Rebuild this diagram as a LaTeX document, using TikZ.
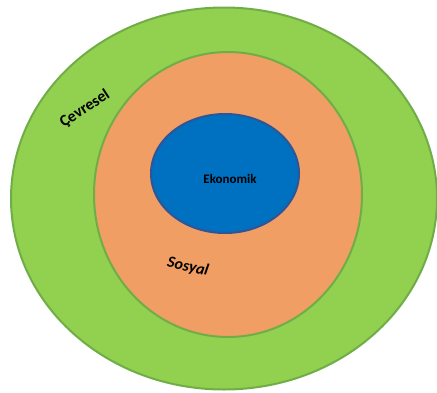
\documentclass[tikz,border=0pt]{standalone}
\usepackage{fontspec}
\setmainfont{Carlito}
\usetikzlibrary{shapes.geometric}
\definecolor{ringgreen}{HTML}{92D050}
\definecolor{ringgreenline}{HTML}{70AD47}
\definecolor{ringorange}{HTML}{F09E63}
\definecolor{coreblue}{HTML}{0070C0}
\definecolor{corebluel}{HTML}{2F5597}
\tikzset{
  ring/.style={ellipse, inner sep=0pt, line width=2pt},
  lbl/.style={font=\bfseries, text=black, inner sep=0pt}
}
\begin{document}
\begin{tikzpicture}[x=1pt,y=-1pt]
\useasboundingbox (0,0) rectangle (437,392);
\node[ring, fill=ringgreen, draw=ringgreenline, minimum width=426pt, minimum height=382pt] (outer) at (224,198.5) {};
\node[ring, fill=ringorange, draw=ringgreenline, minimum width=268pt, minimum height=285pt] (mid) at (228,194.5) {};
\node[ring, fill=coreblue, draw=corebluel, minimum width=148pt, minimum height=119pt] (core) at (225,173.5) {};
\node[lbl, font=\fontsize{13}{15}\selectfont\bfseries] (eko) at (230,179) {Ekonomik};
\node[lbl, font=\fontsize{16}{18}\selectfont\bfseries\itshape, rotate=-12] (sos) at (188,267) {Sosyal};
\node[lbl, font=\fontsize{16}{18}\selectfont\bfseries, rotate=33] (cev) at (85,109) {Çevresel};
\end{tikzpicture}
\end{document}
